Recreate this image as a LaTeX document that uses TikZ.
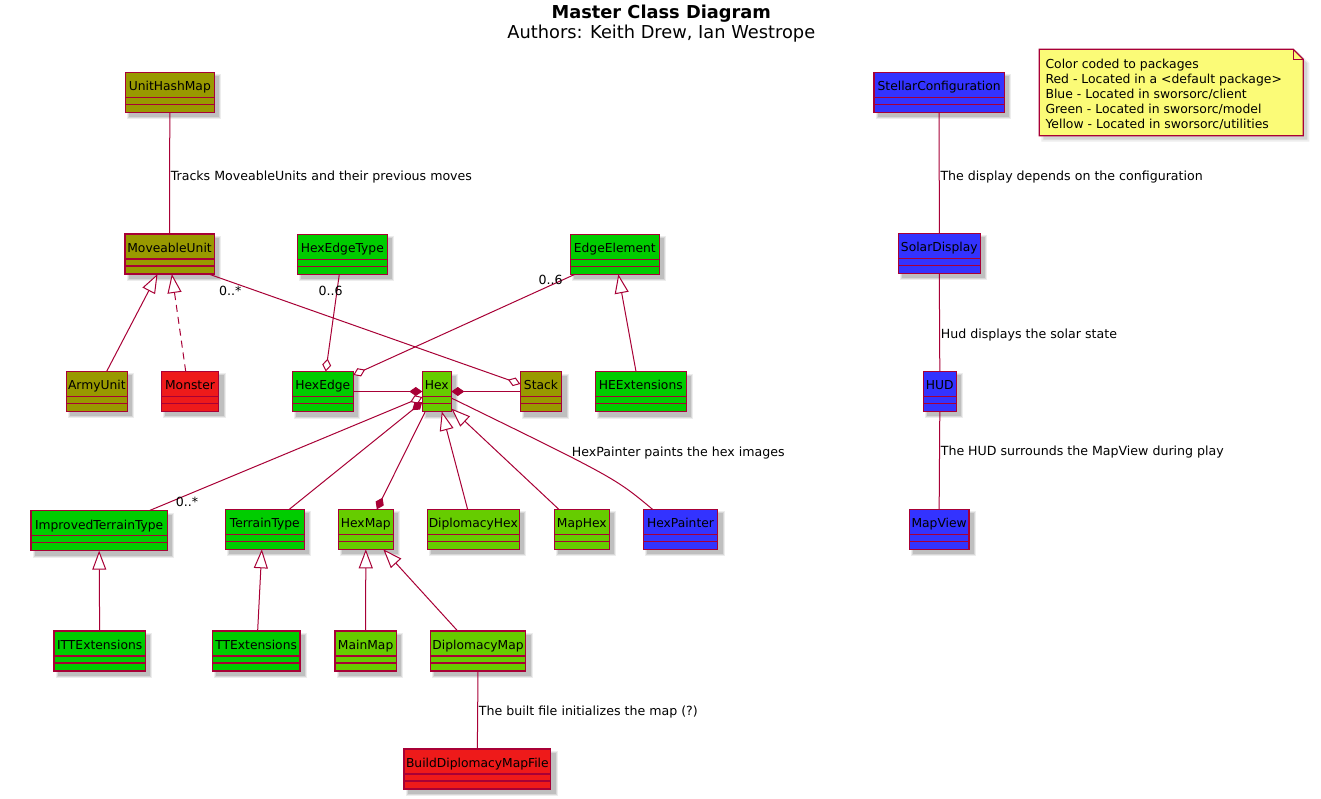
\documentclass[tikz,border=0pt]{standalone}
\usepackage{fontspec}
\setmainfont{DejaVu Sans}
\usetikzlibrary{arrows.meta,calc}
\definecolor{bord}{HTML}{A80036}
\definecolor{olv}{HTML}{999900}
\definecolor{grn}{HTML}{00CC00}
\definecolor{ygr}{HTML}{66CC00}
\definecolor{rd}{HTML}{EE1A1A}
\definecolor{blu}{HTML}{3333FF}
\definecolor{notef}{HTML}{FBFB77}
\newcommand\fsz[1]{\fontsize{#1}{#1}\selectfont}
\tikzset{
  cls/.style={draw=bord, line width=1.4pt, inner sep=0pt, outer sep=0pt,
    minimum height=40pt, text height=18.4pt, text depth=21.6pt,
    anchor=north west, font=\fsz{12.3}},
  divl/.style={draw=bord, line width=1.2pt},
  shd/.style={fill=black},
  ln/.style={draw=bord, line width=1pt},
  ext/.style={ln, -{Triangle[length=19pt, width=14pt, fill=white]}},
  agg/.style={ln, -{Diamond[length=13pt, width=9pt, fill=white]}},
  comp/.style={ln, -{Diamond[length=13pt, width=9pt]}},
  lbl/.style={inner sep=0pt, font=\fsz{12.6}, text=black},
}
\newcommand\umlcls[6]{%
  \fill[shd, opacity=0.07] (#2+2,#3+2) rectangle (#4+7,#3+47);
  \fill[shd, opacity=0.09] (#2+3,#3+3) rectangle (#4+6,#3+46);
  \fill[shd, opacity=0.11] (#2+4,#3+4) rectangle (#4+5,#3+45);
  \pgfmathsetmacro\clsw{#4-#2}%
  \node[cls, fill=#5, minimum width=\clsw pt] (#1) at (#2,#3) {#6};
  \draw[divl] ($(#1.north west)+(0,25)$) -- ($(#1.north east)+(0,25)$);
  \draw[divl] ($(#1.north west)+(0,32)$) -- ($(#1.north east)+(0,32)$);
}
\begin{document}
\begin{tikzpicture}[x=1pt, y=-1pt]
\fill[white] (0,0) rectangle (1321,799);
\useasboundingbox (0,0) rectangle (1321,799);

% title
\node[inner sep=0pt, anchor=base, font=\bfseries\fsz{17.8}] (title) at (661.3,18.5) {Master Class Diagram};
\node[inner sep=0pt, anchor=base, font=\fsz{17.8}] (authors) at (661.3,38.8) {Authors: Keith Drew, Ian Westrope};

% classes
\umlcls{u}{125.3}{72.3}{214.3}{olv}{UnitHashMap}
\umlcls{mu}{124.8}{234}{214.3}{olv}{MoveableUnit}
\umlcls{au}{66.3}{371.3}{127.3}{olv}{ArmyUnit}
\umlcls{mo}{161.3}{371.3}{218.7}{rd}{Monster}
\umlcls{het}{297.3}{234.3}{387.3}{grn}{HexEdgeType}
\umlcls{ee}{570.3}{234.3}{659.3}{grn}{EdgeElement}
\umlcls{he}{292.3}{371.5}{353.3}{grn}{HexEdge}
\umlcls{hex}{422.3}{371.5}{451.3}{ygr}{Hex}
\umlcls{st}{520.3}{371.5}{561.7}{olv}{Stack}
\umlcls{hx}{595.3}{371.5}{686.3}{grn}{HEExtensions}
\umlcls{itt}{31}{510.7}{167.3}{grn}{ImprovedTerrainType}
\umlcls{tt}{225.3}{509.3}{304.3}{grn}{TerrainType}
\umlcls{hm}{338.3}{509.3}{393.3}{ygr}{HexMap}
\umlcls{dh}{427.3}{509.3}{519.3}{ygr}{DiplomacyHex}
\umlcls{mh}{554.3}{509.3}{609.3}{ygr}{MapHex}
\umlcls{hp}{643.3}{509.3}{717.7}{blu}{HexPainter}
\umlcls{itx}{54}{631}{145.3}{grn}{ITTExtensions}
\umlcls{ttx}{212.3}{631}{300}{grn}{TTExtensions}
\umlcls{mm}{335}{631}{396.3}{ygr}{MainMap}
\umlcls{dm}{430.3}{631}{525.7}{ygr}{DiplomacyMap}
\umlcls{bd}{404}{749}{550.7}{rd}{BuildDiplomacyMapFile}
\umlcls{sc}{874}{72.3}{1004.3}{blu}{StellarConfiguration}
\umlcls{sd}{898.3}{233.3}{980.3}{blu}{SolarDisplay}
\umlcls{hud}{923.3}{371.3}{956.3}{blu}{HUD}
\umlcls{mv}{909.3}{509.3}{969}{blu}{MapView}

% note
\fill[shd, opacity=0.07] (1041.3,51.3) -- (1297.3,51.3) -- (1309.3,63.3) -- (1309.3,141.7) -- (1041.3,141.7) -- cycle;
\fill[shd, opacity=0.10] (1043.3,53.3) -- (1297.3,53.3) -- (1307.3,63.3) -- (1307.3,139.7) -- (1043.3,139.7) -- cycle;
\draw[bord, line width=1.2pt, fill=notef] (1039.3,49.3) -- (1293.3,49.3) -- (1303.3,59.3) -- (1303.3,135.7) -- (1039.3,135.7) -- cycle;
\draw[bord, line width=1.2pt] (1293.3,49.3) -- (1293.3,59.3) -- (1303.3,59.3);
\node[inner sep=0pt, anchor=north west, align=left, font=\fontsize{12.4}{15}\selectfont] (note) at (1045.3,58.4)
  {Color coded to packages\\Red - Located in a <default package>\\Blue - Located in sworsorc/client\\Green - Located in sworsorc/model\\Yellow - Located in sworsorc/utilities};

% connectors
\draw[ln] (u.south) -- node[lbl, anchor=base west, pos=0.562, xshift=0.6pt] {Tracks MoveableUnits and their previous moves} (mu.north);
\draw[ext] ($(au.north)+(9.9,0)$) -- ($(mu.south)+(-12,0)$);
\draw[ext, dash pattern=on 7pt off 5pt] ($(mo.north)+(-4.3,0)$) -- ($(mu.south)+(2.3,0)$);
\draw[agg] ($(mu.south)+(39,0)$) -- ($(st.west)+(0,-7.5)$);
\node[lbl, anchor=base west] (m1) at (219,296) {0..*};
\draw[agg] ($(het.south)+(-3,0)$) -- ($(he.north)+(3,0)$);
\node[lbl, anchor=base west] (m2) at (318.3,296) {0..6};
\draw[agg] ($(ee.south west)+(4.7,0)$) -- ($(he.east)+(0,-16.5)$);
\node[lbl, anchor=base west] (m3) at (538.3,284.3) {0..6};
\draw[ext] ($(hx.north)+(-4.8,0)$) -- ($(ee.south)+(3.5,0)$);
\draw[comp] (he.east) -- (hex.west);
\draw[comp] (st.west) -- (hex.east);
\draw[agg] ($(itt.north)+(50,0)$) -- ($(hex.west)+(0,5.5)$);
\node[lbl, anchor=base west] (m4) at (175.7,506) {0..*};
\draw[comp] ($(tt.north)+(24.5,0)$) -- ($(hex.west)+(0,10.5)$);
\draw[comp] ($(hex.south)+(-11.5,0)$) -- ($(hm.north)+(11,0)$);
\draw[ext] ($(dh.north)+(-5.7,0)$) -- ($(hex.south)+(5,0)$);
\draw[ext] ($(mh.north)+(-23,0)$) -- ($(hex.south east)+(0,-3)$);
\coordinate (hpc) at (615,478);
\draw[ln] ($(hex.east)+(0,6.5)$) .. controls (hpc) .. ($(hp.north)+(-28,0)$);
\node[lbl, anchor=base west] (lhp) at (571.7,456) {HexPainter paints the hex images};
\draw[ext] (itx.north) -- (itt.south);
\draw[ext] ($(ttx.north)+(1.5,0)$) -- ($(tt.south)+(-3,0)$);
\draw[ext] (mm.north) -- (hm.south);
\draw[ext] ($(dm.north)+(-20.3,0)$) -- ($(hm.south)+(17.5,0)$);
\draw[ln] (dm.south) -- node[lbl, anchor=base west, pos=0.575, xshift=0.8pt] {The built file initializes the map (?)} (bd.north);
\draw[ln] (sc.south) -- node[lbl, anchor=base west, pos=0.565, xshift=0.8pt] {The display depends on the configuration} (sd.north);
\draw[ln] (sd.south) -- node[lbl, anchor=base west, pos=0.663, xshift=0.8pt] {Hud displays the solar state} (hud.north);
\draw[ln] (hud.south) -- node[lbl, anchor=base west, pos=0.456, xshift=0.8pt] {The HUD surrounds the MapView during play} (mv.north);
\end{tikzpicture}
\end{document}
